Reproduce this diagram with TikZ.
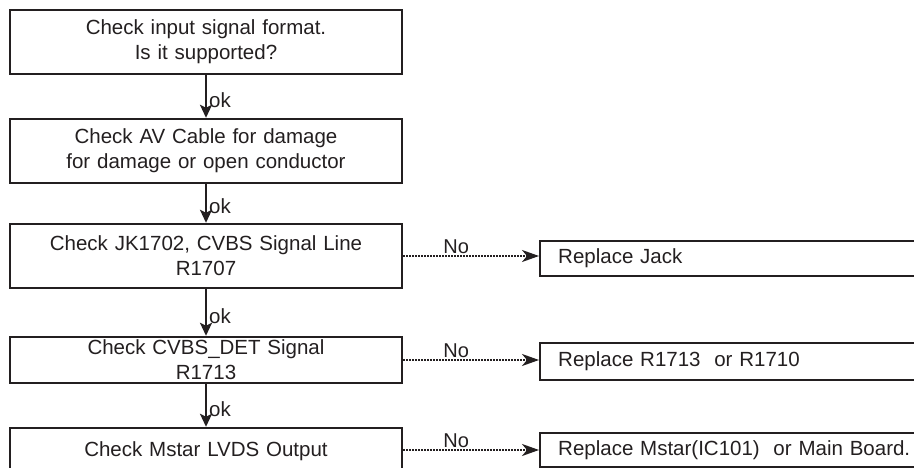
\documentclass[tikz,border=0pt]{standalone}
\usepackage{fontspec}
\setmainfont{Liberation Sans}
\usetikzlibrary{arrows.meta,positioning,calc}
\definecolor{inkgray}{RGB}{35,31,32}

\begin{document}
\begin{tikzpicture}[x=1pt,y=-1pt,color=inkgray,
  chkbox/.style={draw,line width=2.4pt,minimum width=392pt,text width=380pt,
    inner xsep=6pt,inner ysep=0pt,align=center,font=\fontsize{20.5}{25}\selectfont},
  repbox/.style={draw,line width=2.4pt,anchor=west,minimum height=36pt,text width=380pt,
    inner xsep=18pt,inner ysep=0pt,align=left,font=\fontsize{20.5}{25}\selectfont},
  okarrow/.style={line width=2.4pt,-{Stealth[length=13pt,width=12pt,inset=3pt]}},
  noarrow/.style={line width=2pt,densely dotted,-{Stealth[length=17pt,width=12pt,inset=5pt]}},
  oklabel/.style={right,pos=0.58,inner sep=2pt,font=\fontsize{20.5}{25}\selectfont},
  nolabel/.style={above,pos=0.39,inner sep=1pt,font=\fontsize{20}{24}\selectfont}]

%Picture size
\useasboundingbox (0,0) rectangle (914,468);
\clip (0,0) rectangle (914,468);

% Check boxes, left column
    \node[chkbox,minimum height=64pt] (chk1) at (206,42) {Check input signal format.\\Is it supported?};
    \node[chkbox,minimum height=64pt] (chk2) at (206,151) {Check AV Cable for damage\\for damage or open conductor};
    \node[chkbox,minimum height=64pt] (chk3) at (206,256) {Check JK1702, CVBS Signal Line\\R1707};
    \node[chkbox,minimum height=46pt] (chk4) at (206,360) {Check CVBS\_DET Signal\\R1713};
    \node[chkbox,minimum height=46pt] (chk5) at (206,451) {Check Mstar LVDS Output};

% Replace boxes, right column
    \node[repbox,minimum height=35pt] (rep1) at (539,258.5) {Replace Jack};
    \node[repbox,minimum height=37pt] (rep2) at (539,361.5) {Replace R1713\ \ or R1710};
    \node[repbox,minimum height=34pt] (rep3) at (539,450) {Replace Mstar(IC101)\ \ or Main Board.};

% ok arrows
    \draw[okarrow] (chk1) -- node[oklabel] {ok} (chk2);
    \draw[okarrow] (chk2) -- node[oklabel] {ok} (chk3);
    \draw[okarrow] (chk3) -- node[oklabel] {ok} (chk4);
    \draw[okarrow] (chk4) -- node[oklabel] {ok} (chk5);

% No arrows
    \draw[noarrow] (chk3.east) -- node[nolabel] {No} (chk3.east -| rep1.west);
    \draw[noarrow] (chk4.east) -- node[nolabel] {No} (chk4.east -| rep2.west);
    \draw[noarrow] (rep3.west -| chk5.east) -- node[nolabel] {No} (rep3.west);

\end{tikzpicture}
\end{document}
